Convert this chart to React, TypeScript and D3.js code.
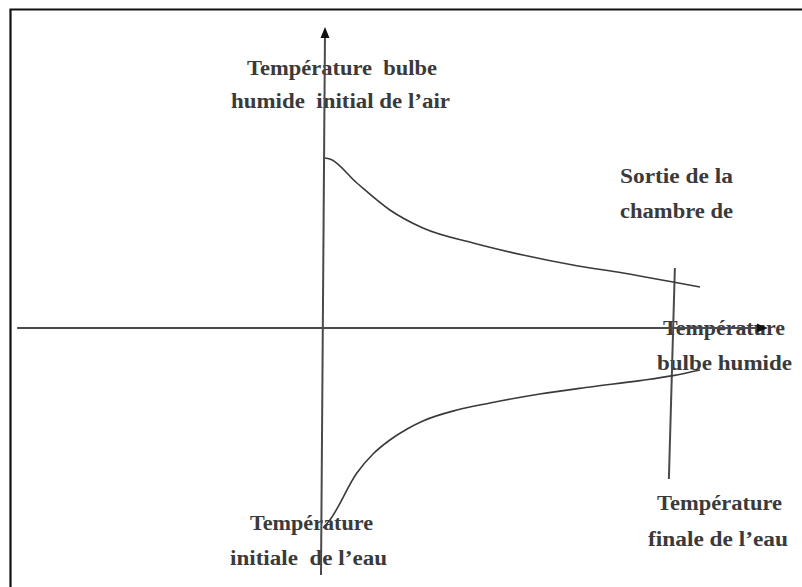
import React from "react";
import * as d3 from "d3";

// Schematic coordinate system: x = progression through the chamber (0..100), y = temperature offset
const airCurveX = [0, 1.3, 8.5, 17.3, 26.1, 39.5, 52.8, 66.1, 79.5, 92.8, 100];
const airCurveY = [85, 84.5, 72.5, 59, 50, 42.5, 36.5, 31.5, 27.5, 23, 20.5];

const waterCurveX = [-0.5, 1.3, 8.5, 12.8, 17.3, 21.9, 26.1, 35.2, 44, 57.3, 70.7, 84, 92.8, 100];
const waterCurveY = [-100, -96, -72.5, -63, -56, -50.5, -46.5, -41, -37.5, -33, -29.5, -26.3, -23.8, -21];

// axis and exit line endpoints (data units)
const vAxisX = [-1.07, 0];
const vAxisY = [-123.5, 150.5];
const hAxisX = [-82.1, 118.1];
const hAxisY = [0, 0];
const exitLineX = [93.3, 91.7];
const exitLineY = [30, -75.5];

const labelLines = [
  "Température  bulbe",
  "humide  initial de l’air",
  "Sortie de la",
  "chambre de",
  "Température",
  "bulbe humide",
  "Température",
  "initiale  de l’eau",
  "Température",
  "finale de l’eau",
];

// label layout (pixel x, baseline y, width)
const labelLayout = [
  [247, 75, 190],
  [231, 108, 219],
  [620, 183, 113],
  [620, 218, 113],
  [663, 335, 122],
  [657, 370, 135],
  [250, 530, 123],
  [230, 565, 157],
  [657, 510, 125],
  [648, 546, 140],
];

export default function App() {
  const W = 802;
  const H = 587;
  const x = d3.scaleLinear().domain([0, 100]).range([325, 700]);
  const y = d3.scaleLinear().domain([-100, 100]).range([528, 128]);

  const line = d3
    .line<[number, number]>()
    .x((d) => x(d[0]))
    .y((d) => y(d[1]))
    .curve(d3.curveMonotoneX);

  const air: [number, number][] = airCurveX.map((v, i) => [v, airCurveY[i]]);
  const water: [number, number][] = waterCurveX.map((v, i) => [v, waterCurveY[i]]);

  const vTop = [x(vAxisX[1]), y(vAxisY[1])];
  const hRight = [x(hAxisX[1]), y(hAxisY[1])];

  const axisColor = "#4a4a4a";
  const curveColor = "#3a3a3a";

  return (
    <svg
      width={W}
      height={H}
      style={{ position: "fixed", left: 0, top: 0, background: "#fff" }}
    >
      <rect x={0} y={0} width={W} height={H} fill="#fff" />
      {/* frame */}
      <path d={`M10.5,${H + 5} L10.5,9.5 L${W + 5},9.5`} fill="none" stroke="#111" strokeWidth={2.2} />

      {/* labels */}
      {labelLines.map((t, i) => (
        <text
          key={i}
          x={labelLayout[i][0]}
          y={labelLayout[i][1]}
          textLength={labelLayout[i][2]}
          lengthAdjust="spacingAndGlyphs"
          fontSize={20}
          fontFamily="Liberation Serif"
          fontWeight="bold"
          fill="#3a3a3a"
          style={{ whiteSpace: "pre" }}
        >
          {t}
        </text>
      ))}

      {/* horizontal axis */}
      <line
        x1={x(hAxisX[0])}
        y1={y(hAxisY[0])}
        x2={x(hAxisX[1]) - 4}
        y2={y(hAxisY[1])}
        stroke={axisColor}
        strokeWidth={2}
      />
      <path
        d={`M${hRight[0]},${hRight[1]} L${hRight[0] - 11},${hRight[1] - 4.5} L${hRight[0] - 11},${hRight[1] + 4.5} Z`}
        fill="#111"
      />

      {/* vertical axis */}
      <line
        x1={x(vAxisX[0])}
        y1={y(vAxisY[0])}
        x2={vTop[0]}
        y2={vTop[1] + 4}
        stroke={axisColor}
        strokeWidth={2}
      />
      <path
        d={`M${vTop[0]},${vTop[1]} L${vTop[0] - 4.5},${vTop[1] + 11} L${vTop[0] + 4.5},${vTop[1] + 11} Z`}
        fill="#111"
      />

      {/* exit line */}
      <line
        x1={x(exitLineX[0])}
        y1={y(exitLineY[0])}
        x2={x(exitLineX[1])}
        y2={y(exitLineY[1])}
        stroke={axisColor}
        strokeWidth={2}
      />

      {/* curves */}
      <path d={line(air) || ""} fill="none" stroke={curveColor} strokeWidth={1.6} />
      <path d={line(water) || ""} fill="none" stroke={curveColor} strokeWidth={1.6} />
    </svg>
  );
}
